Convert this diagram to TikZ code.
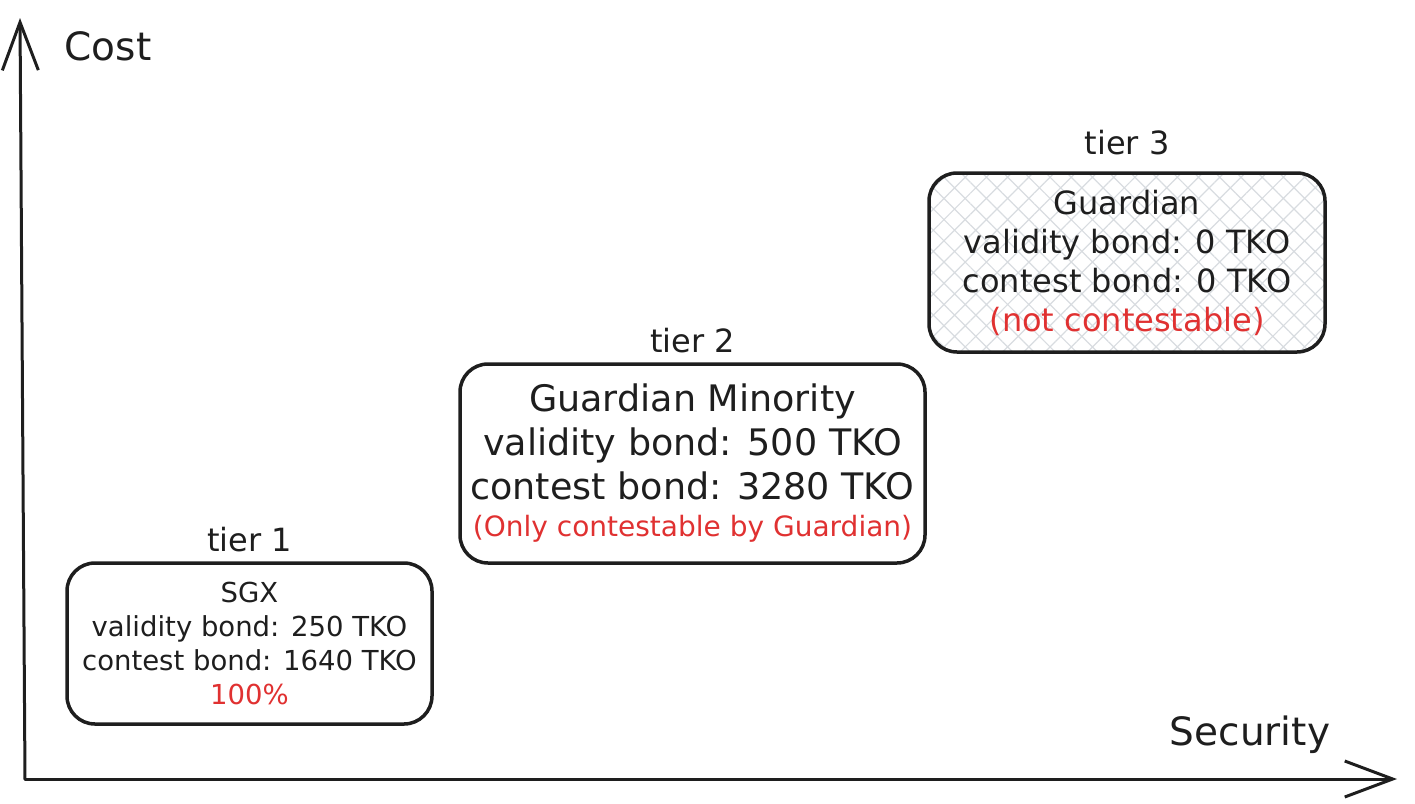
\documentclass[tikz,border=0pt]{standalone}
\usepackage{fontspec}
\setmainfont{DejaVu Sans}
\usetikzlibrary{positioning,arrows.meta,patterns.meta}
\definecolor{inkblack}{HTML}{1E1E1E}
\definecolor{notered}{HTML}{E03131}
\definecolor{hatchgray}{HTML}{D8DCE0}

\begin{document}
\begin{tikzpicture}[x=1pt,y=-1pt,
  tierbox/.style={draw=inkblack,line width=3.5pt,rounded corners=28pt,
    align=center,inner sep=0pt,text=inkblack},
  tierlabel/.style={font=\fontsize{32}{36}\selectfont,text=inkblack},
  axislabel/.style={font=\fontsize{39}{44}\selectfont,text=inkblack},
  axisline/.style={draw=inkblack,line width=3pt,line cap=round,
    -{Straight Barb[length=48pt,width=36pt]}}]

\useasboundingbox (0,0) rectangle (1415,803);

% axes
\coordinate (origin) at (25,779);
\coordinate (ytop) at (20,18);
\coordinate (xend) at (1397,779);
\draw[axisline] (origin) -- (ytop);
\draw[axisline] (origin) -- (xend);
\node[axislabel] (cost) at (108,46) {Cost};
\node[axislabel] (security) at (1250,735) {Security};

% tier 1
\node[tierbox,minimum width=365pt,minimum height=161pt,
  font=\fontsize{27.5}{34}\selectfont] (t1) at (249.5,643.5)
  {SGX\\validity bond: 250 TKO\\contest bond: 1640 TKO\\
   \textcolor{notered}{100\%}};
\node[tierlabel,above=6pt of t1] (t1lbl) {tier 1};

% tier 2
\node[tierbox,minimum width=465pt,minimum height=199pt,
  font=\fontsize{36.5}{44}\selectfont] (t2) at (692.5,463.5)
  {Guardian Minority\\validity bond: 500 TKO\\contest bond: 3280 TKO\\[-7pt]
   \fontsize{28}{38}\selectfont\textcolor{notered}{(Only contestable by Guardian)}};
\node[tierlabel,above=6pt of t2] (t2lbl) {tier 2};

% tier 3
\node[tierbox,minimum width=396pt,minimum height=179pt,
  pattern={Hatch[angle=45,distance=15pt,line width=1.2pt]},pattern color=hatchgray,
  font=\fontsize{32}{39}\selectfont] (t3) at (1127,262.5)
  {Guardian\\validity bond: 0 TKO\\contest bond: 0 TKO\\
   \textcolor{notered}{(not contestable)}};
\node[tierlabel,above=14pt of t3] (t3lbl) {tier 3};

\end{tikzpicture}
\end{document}
